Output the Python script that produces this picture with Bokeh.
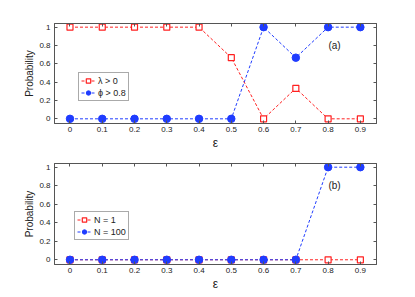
from bokeh.plotting import figure
from bokeh.layouts import column
from bokeh.models import (Range1d, LinearAxis, FixedTicker, Legend, LegendItem, Label,
                          CustomLabelingPolicy)
from bokeh.embed import file_html
from bokeh.resources import INLINE

eps = [0, 0.1, 0.2, 0.3, 0.4, 0.5, 0.6, 0.7, 0.8, 0.9]
lam_pos = [1, 1, 1, 1, 1, 0.667, 0, 0.333, 0, 0]
phi_gt = [0, 0, 0, 0, 0, 0, 1, 0.667, 1, 1]
n1 = [0, 0, 0, 0, 0, 0, 0, 0, 0, 0]
n100 = [0, 0, 0, 0, 0, 0, 0, 0, 1, 1]
xticks = [0, 0.1, 0.2, 0.3, 0.4, 0.5, 0.6, 0.7, 0.8, 0.9]
xtick_labels = ["0", "0.1", "0.2", "0.3", "0.4", "0.5", "0.6", "0.7", "0.8", "0.9"]
yticks = [0, 0.2, 0.4, 0.6, 0.8, 1]
ytick_labels = ["0", "0.2", "0.4", "0.6", "0.8", "1"]

RED = "#ff2020"
BLUE = "#1f3cff"
FONT = "Liberation Sans"
AX = "#555555"


def make_panel(height, top_border, bottom_border, red, blue, red_name, blue_name, tag,
               legend_loc):
    p = figure(width=415, height=height, output_backend="svg", toolbar_location=None,
               x_range=Range1d(-0.048, 0.95), y_range=Range1d(-0.051, 1.04),
               min_border_left=54, min_border_right=39, min_border_top=top_border,
               min_border_bottom=bottom_border, x_axis_location=None, y_axis_location=None)
    p.grid.visible = False
    p.outline_line_color = AX
    p.outline_line_width = 1

    xt = {float(t): l for t, l in zip(xticks, xtick_labels)}
    yt = {float(t): l for t, l in zip(yticks, ytick_labels)}

    bx = LinearAxis(ticker=FixedTicker(ticks=xticks), axis_label="ε")
    bx.major_label_overrides = xt
    ly = LinearAxis(ticker=FixedTicker(ticks=yticks), axis_label="Probability")
    ly.major_label_overrides = yt
    for ax in (bx, ly):
        ax.major_tick_in = 3
        ax.major_tick_out = 0
        ax.minor_tick_line_color = None
        ax.axis_line_color = AX
        ax.major_tick_line_color = AX
        ax.major_label_text_font = FONT
        ax.major_label_text_font_size = "8px"
        ax.major_label_text_color = "#222222"
        ax.axis_label_text_font = FONT
        ax.axis_label_text_font_style = "normal"
        ax.axis_label_text_color = "#222222"
        ax.major_label_standoff = 3
        ax.axis_label_standoff = 1
    bx.axis_label_text_font_size = "12px"
    ly.axis_label_text_font_size = "10px"
    ly.major_label_standoff = 4
    p.add_layout(bx, "below")
    p.add_layout(ly, "left")

    hide = "for (const i of indices) indices.unset(i); return indices"
    tx = LinearAxis(ticker=FixedTicker(ticks=xticks))
    ry = LinearAxis(ticker=FixedTicker(ticks=yticks))
    for ax in (tx, ry):
        ax.major_tick_in = 3
        ax.major_tick_out = 0
        ax.minor_tick_line_color = None
        ax.axis_line_color = AX
        ax.major_tick_line_color = AX
        ax.major_label_policy = CustomLabelingPolicy(code=hide)
        ax.major_label_text_font_size = "1px"
        ax.major_label_standoff = 0
    p.add_layout(tx, "above")
    p.add_layout(ry, "right")

    rl = p.line(eps, red, line_color=RED, line_dash="3 2", line_width=1)
    rm = p.scatter(eps, red, marker="square", size=6, line_color=RED, fill_color="white",
                   line_width=1.2)
    bl = p.line(eps, blue, line_color=BLUE, line_dash="3 2", line_width=1)
    bm = p.scatter(eps, blue, marker="circle", size=7.5, line_color=BLUE, fill_color=BLUE)

    leg = Legend(items=[LegendItem(label=red_name, renderers=[rl, rm]),
                        LegendItem(label=blue_name, renderers=[bl, bm])],
                 location=legend_loc, label_text_font=FONT, label_text_font_size="9px",
                 label_text_color="#222222", glyph_width=14, glyph_height=11,
                 label_height=11, label_standoff=3, padding=2, spacing=1, margin=0,
                 border_line_color=AX, border_line_width=1,
                 background_fill_alpha=1)
    p.add_layout(leg, "center")

    p.add_layout(Label(x=0.82, y=0.8, text=tag, text_font=FONT, text_font_size="10px",
                       text_color="#222222", text_align="center", text_baseline="middle"))
    return p


p1 = make_panel(155, 23, 32, lam_pos, phi_gt, "λ > 0", "ϕ > 0.8", "(a)", (24, 22))
p2 = make_panel(142, 8, 33, n1, n100, "N = 1", "N = 100", "(b)", (20, 24))

layout = column(p1, p2, spacing=0)
open("out.html", "w").write(file_html(layout, INLINE))
